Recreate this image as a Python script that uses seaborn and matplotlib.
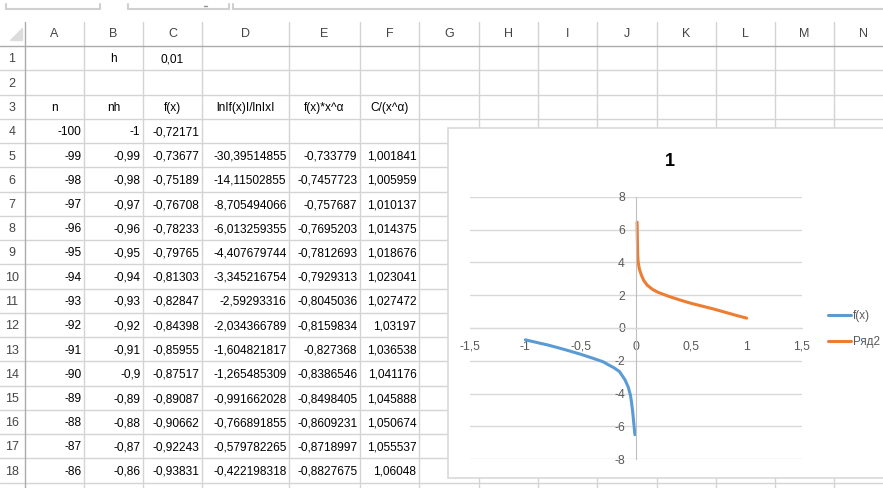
import matplotlib
matplotlib.use("Agg")
import matplotlib.pyplot as plt
from matplotlib.patches import Rectangle, Polygon
import numpy as np
import pandas as pd
import seaborn as sns

# ---- spreadsheet contents (as displayed) ----
col_letters = ['A', 'B', 'C', 'D', 'E', 'F', 'G', 'H', 'I', 'J', 'K', 'L', 'M', 'N']
header_row = ['n', 'nh', 'f(x)', 'lnIf(x)I/lnIxI', 'f(x)*x^α', 'C/(x^α)']
n_vals = ['-100', '-99', '-98', '-97', '-96', '-95', '-94', '-93', '-92', '-91', '-90',
          '-89', '-88', '-87', '-86']
nh_vals = ['-1', '-0,99', '-0,98', '-0,97', '-0,96', '-0,95', '-0,94', '-0,93', '-0,92',
           '-0,91', '-0,9', '-0,89', '-0,88', '-0,87', '-0,86']
fx_vals = ['-0,72171', '-0,73677', '-0,75189', '-0,76708', '-0,78233', '-0,79765',
           '-0,81303', '-0,82847', '-0,84398', '-0,85955', '-0,87517', '-0,89087',
           '-0,90662', '-0,92243', '-0,93831']
ratio_vals = ['', '-30,39514855', '-14,11502855', '-8,705494066', '-6,013259355',
              '-4,407679744', '-3,345216754', '-2,59293316', '-2,034366789',
              '-1,604821817', '-1,265485309', '-0,991662028', '-0,766891855',
              '-0,579782265', '-0,422198318']
fxa_vals = ['', '-0,733779', '-0,7457723', '-0,757687', '-0,7695203', '-0,7812693',
            '-0,7929313', '-0,8045036', '-0,8159834', '-0,827368', '-0,8386546',
            '-0,8498405', '-0,8609231', '-0,8718997', '-0,8827675']
cxa_vals = ['', '1,001841', '1,005959', '1,010137', '1,014375', '1,018676', '1,023041',
            '1,027472', '1,03197', '1,036538', '1,041176', '1,045888', '1,050674',
            '1,055537', '1,06048']

# ---- chart series ----
fx_x = [-1.0, -0.95, -0.9, -0.86, -0.8, -0.75, -0.7, -0.6, -0.5, -0.4, -0.3, -0.25,
        -0.2, -0.15, -0.13, -0.1, -0.07, -0.05, -0.04, -0.03, -0.02, -0.015, -0.01]
fx_y = [-0.72, -0.80, -0.875, -0.94, -1.03, -1.12, -1.21, -1.4, -1.6, -1.82, -2.05,
        -2.24, -2.42, -2.65, -2.85, -3.15, -3.6, -4.1, -4.55, -5.1, -5.8, -6.15, -6.5]
r2_x = [0.01, 0.013, 0.016, 0.02, 0.03, 0.05, 0.07, 0.1, 0.15, 0.2, 0.3, 0.4, 0.5,
        0.6, 0.7, 0.8, 0.9, 1.0]
r2_y = [6.45, 5.2, 4.35, 4.0, 3.6, 3.2, 2.9, 2.62, 2.35, 2.17, 1.92, 1.7, 1.5, 1.33,
        1.16, 0.97, 0.78, 0.6]
x_ticks = [-1.5, -1.0, -0.5, 0.0, 0.5, 1.0, 1.5]
x_tick_labels = ['-1,5', '-1', '-0,5', '0', '0,5', '1', '1,5']
y_ticks = [-8, -6, -4, -2, 0, 2, 4, 6, 8]
y_tick_labels = ['-8', '-6', '-4', '-2', '0', '2', '4', '6', '8']

sns.set_style("white")
plt.rcParams['font.family'] = ['Liberation Sans', 'DejaVu Sans']

W, H = 883, 488
fig = plt.figure(figsize=(W / 100, H / 100), dpi=100)

# sheet drawn in pixel coordinates
bg = fig.add_axes([0, 0, 1, 1])
bg.set_xlim(0, W)
bg.set_ylim(H, 0)
bg.axis('off')

grid_c = '#d4d4d4'
col_edges = [0, 25, 84, 143, 202, 289, 360, 419, 479, 538, 597, 657, 716, 775, 834, 893]
head_top, head_bot = 22, 46
row_h = 24.25
n_rows = 19

# formula bar remnants
for x0, x1 in [(6, 100), (128, 229), (233, 890)]:
    bg.plot([x0, x1], [9, 9], color='#d0d0d0', lw=1.5)
    bg.plot([x0, x0], [4, 9], color='#d0d0d0', lw=1.5)
    if x1 < 800:
        bg.plot([x1, x1], [4, 9], color='#d0d0d0', lw=1.5)
bg.plot([204, 207], [6, 6], color='#909090', lw=1)

# gridlines
row_tops = [head_bot + i * row_h for i in range(n_rows + 1)]
for y in row_tops[1:]:
    bg.plot([0, W], [y, y], color=grid_c, lw=1, zorder=1)
for x in col_edges[2:]:
    bg.plot([x, x], [head_top, H], color=grid_c, lw=1, zorder=1)
bg.plot([25, 25], [head_top, H], color='#ababab', lw=1, zorder=1)
bg.plot([0, W], [head_bot, head_bot], color='#ababab', lw=1, zorder=1)
bg.add_patch(Polygon([[22, 28], [22, 40], [10, 40]], closed=True, color='#dcdcdc', zorder=1))

# headers
for i, letter in enumerate(col_letters):
    xc = (col_edges[i + 1] + col_edges[i + 2]) / 2
    bg.text(xc, 34, letter, ha='center', va='center', fontsize=9, color='#444444')
for r in range(1, 19):
    bg.text(12, row_tops[r - 1] + 13.5, str(r), ha='center', va='center',
            fontsize=9, color='#444444')

def cell(col, row, txt, align='right'):
    x0, x1 = col_edges[col + 1], col_edges[col + 2]
    y = row_tops[row - 1] + 13.5
    if align == 'center':
        bg.text((x0 + x1) / 2, y, txt, ha='center', va='center', fontsize=8.6, color='black')
    else:
        bg.text(x1 - 2.5, y, txt, ha='right', va='center', fontsize=8.6, color='black')

cell(1, 1, 'h', 'center')
cell(2, 1, '0,01', 'center')
for j, t in enumerate(header_row):
    cell(j, 3, t, 'center')
for k in range(len(n_vals)):
    row = 4 + k
    for j, vals in enumerate([n_vals, nh_vals, fx_vals, ratio_vals, fxa_vals, cxa_vals]):
        if vals[k]:
            cell(j, row, vals[k])

# chart frame
bg.add_patch(Rectangle((448, 128), 460, 350, facecolor='white', edgecolor='#d9d9d9',
                       lw=1.2, zorder=5))
bg.text(670, 162, '1', ha='center', va='center', fontsize=13, fontweight='bold',
        color='black', zorder=6)

# chart plot area
left, right, top, bottom = 470, 802, 196.7, 459.3
ax = fig.add_axes([left / W, 1 - bottom / H, (right - left) / W, (bottom - top) / H])
ax.set_facecolor('none')
sns.lineplot(x=fx_x, y=fx_y, ax=ax, color='#5B9BD5', lw=2.2, sort=False,
             estimator=None, label='f(x)')
sns.lineplot(x=r2_x, y=r2_y, ax=ax, color='#ED7D31', lw=2.2, sort=False,
             estimator=None, label='Ряд2')
ax.set_xlim(-1.5, 1.5)
ax.set_ylim(-8, 8)
ax.set_xticks(x_ticks)
ax.set_xticklabels(x_tick_labels)
ax.set_yticks(y_ticks)
ax.set_yticklabels(y_tick_labels)
for y in y_ticks:
    ax.axhline(y, color='#d9d9d9', lw=1, zorder=0)
for s in ['top', 'right']:
    ax.spines[s].set_visible(False)
ax.spines['left'].set_position(('data', 0))
ax.spines['left'].set_color('#bfbfbf')
ax.spines['bottom'].set_position(('data', 0))
ax.spines['bottom'].set_color('#d9d9d9')
ax.tick_params(axis='x', length=0, pad=9, labelsize=8.8, labelcolor='#595959')
ax.tick_params(axis='y', length=0, pad=8, labelsize=8.8, labelcolor='#595959')
ax.set_xlabel('')
ax.set_ylabel('')

ax.legend(loc='upper left', bbox_to_anchor=(817 / W, 1 - 300 / H),
          bbox_transform=fig.transFigure, frameon=False, fontsize=8.4,
          handlelength=2.0, handletextpad=0.15, labelspacing=1.2,
          labelcolor='#595959')

fig.savefig('out.png', dpi=100)
